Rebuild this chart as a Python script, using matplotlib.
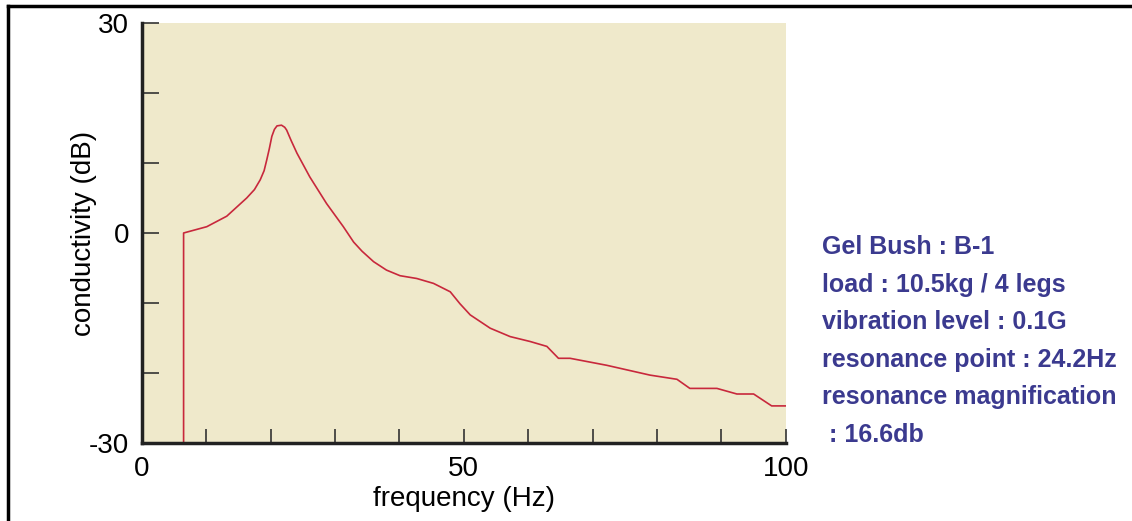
import matplotlib.pyplot as plt
from matplotlib.lines import Line2D

# curve (Hz, dB)
freq = [6.5, 6.5, 10.1, 13.2, 16.3, 17.5, 18.4, 19.0, 19.4, 19.8, 20.2, 20.6, 21.0,
        21.7, 22.2, 22.5, 23.2, 24.1, 26.1, 28.7, 31.3, 32.9, 34.2, 36.0, 38.0,
        40.1, 42.7, 45.3, 47.9, 49.4, 51.0, 54.1, 57.2, 60.3, 62.9, 64.7, 66.5,
        72.2, 78.9, 83.1, 85.1, 89.3, 92.4, 95.0, 97.8, 100.0]
db = [-30, 0.0, 0.9, 2.4, 5.0, 6.2, 7.6, 8.9, 10.4, 12.0, 13.8, 14.8, 15.3,
      15.4, 15.1, 14.7, 13.2, 11.4, 8.0, 4.2, 0.9, -1.3, -2.6, -4.1, -5.3,
      -6.1, -6.5, -7.2, -8.4, -10.1, -11.7, -13.6, -14.8, -15.5, -16.2, -17.9, -17.9,
      -18.9, -20.3, -20.9, -22.2, -22.2, -23.0, -23.0, -24.7, -24.7]

x_labels = [0, 50, 100]
y_labels = [-30, 0, 30]
notes = ["Gel Bush : B-1", "load : 10.5kg / 4 legs", "vibration level : 0.1G",
         "resonance point : 24.2Hz", "resonance magnification", " : 16.6db"]

fig = plt.figure(figsize=(11.32, 5.21), dpi=100)
ax = fig.add_axes([0.1252, 0.1497, 0.569, 0.8062])
ax.set_facecolor('#efe9cb')

ax.plot(freq, db, color='#c8283c', lw=1.2)
ax.set_xlim(0, 100)
ax.set_ylim(-30, 30)

ax.set_xticks(range(0, 101, 10))
ax.set_xticklabels([str(v) if v in x_labels else '' for v in range(0, 101, 10)])
ax.set_yticks(range(-30, 31, 10))
ax.set_yticklabels([str(v) if v in y_labels else '' for v in range(-30, 31, 10)])
ax.tick_params(axis='x', direction='in', length=10, width=1.2, color='#333333',
               labelsize=20, pad=9)
ax.tick_params(axis='y', direction='in', length=12, width=1.2, color='#333333',
               labelsize=20, pad=9)
for lab in ax.get_xticklabels() + ax.get_yticklabels():
    lab.set_family('Liberation Sans')

for s in ['top', 'right']:
    ax.spines[s].set_visible(False)
for s in ['left', 'bottom']:
    ax.spines[s].set_linewidth(2.5)
    ax.spines[s].set_color('#222222')

ax.set_xlabel('frequency (Hz)', family='Liberation Sans', fontsize=20, labelpad=3)
ax.set_ylabel('conductivity (dB)', family='Liberation Sans', fontsize=20, labelpad=-6)

y0 = 247
for line in notes:
    fig.text(822 / 1132, 1 - y0 / 521, line, color='#3b3a8f', fontsize=18,
             fontweight='bold', family='Liberation Sans',
             va='center', ha='left')
    y0 += 37.6

# frame lines on the left and top of the picture
fig.add_artist(Line2D([8 / 1132, 8 / 1132], [0, 1 - 6 / 521], transform=fig.transFigure,
                      color='black', lw=2.5))
fig.add_artist(Line2D([8 / 1132, 1], [1 - 6 / 521, 1 - 6 / 521], transform=fig.transFigure,
                      color='black', lw=2.5))

fig.savefig('out.png', dpi=100)
